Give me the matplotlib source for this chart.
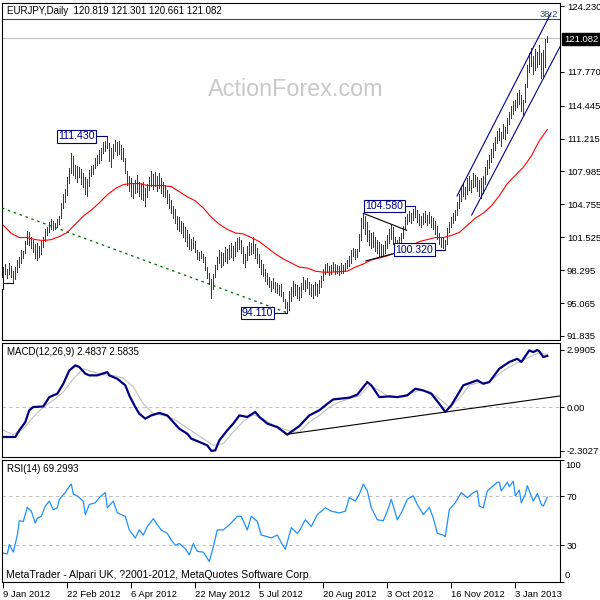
import matplotlib
matplotlib.use('Agg')
import matplotlib.pyplot as plt
from matplotlib.patches import Rectangle

plt.rcParams['font.family'] = ['Liberation Sans', 'DejaVu Sans']

symbol_text = "EURJPY,Daily  120.819 121.301 120.661 121.082"
macd_text = "MACD(12,26,9) 2.4837 2.5835"
rsi_text = "RSI(14) 69.2993"
footer_text = "MetaTrader - Alpari UK, ?2001-2012, MetaQuotes Software Corp."

highs = [
    98.6, 98.9, 98.4, 99.0, 98.7, 98.2, 98.6, 99.3, 99.6, 100.3,
    100.2, 101.2, 102.1, 102.0, 101.6, 101.3, 100.9, 101.0, 100.7, 101.2,
    101.6, 102.3, 102.5, 103.0, 103.3, 103.1, 102.9, 103.3, 103.6, 104.9,
    105.8, 106.3, 107.4, 108.3, 109.8, 109.5, 108.6, 108.5, 108.4, 108.2,
    107.8, 107.4, 107.2, 108.1, 108.5, 108.6, 109.3, 109.6, 110.1, 110.3,
    110.9, 111.0, 111.43, 110.8, 110.3, 110.7, 111.1, 110.9, 111.0, 110.6,
    110.3, 109.3, 108.0, 107.5, 107.3, 106.9, 107.1, 107.6, 107.0, 106.9,
    107.0, 106.4, 106.8, 107.4, 108.0, 107.7, 107.9, 107.5, 107.8, 107.3,
    107.0, 106.7, 106.2, 105.8, 105.2, 104.6, 104.3, 103.6, 103.5, 103.1,
    102.9, 102.5, 102.2, 101.8, 101.4, 101.6, 101.2, 100.3, 100.1, 100.2,
    99.9, 99.6, 98.6, 98.0, 97.4, 97.9, 98.8, 99.6, 100.3, 100.1,
    100.0, 100.6, 100.4, 100.8, 101.0, 100.7, 101.1, 101.5, 101.6, 101.3,
    100.6, 99.9, 100.7, 101.1, 101.0, 101.55, 100.9, 100.5, 99.9, 99.3,
    98.9, 98.4, 98.0, 97.6, 97.2, 97.5, 97.1, 97.0, 96.8, 96.9,
    96.2, 95.5, 95.2, 96.3, 96.6, 97.2, 96.9, 96.8, 96.6, 97.0,
    97.6, 97.3, 97.5, 97.1, 96.9, 96.8, 97.1, 96.9, 97.3, 97.7,
    98.4, 98.9, 99.0, 98.7, 98.8, 99.1, 98.9, 98.8, 98.7, 99.0,
    98.8, 99.0, 99.3, 99.7, 100.3, 100.5, 100.4, 100.4, 101.8, 103.4,
    103.9, 103.6, 103.0, 102.2, 101.9, 102.0, 101.6, 101.3, 101.1, 100.9,
    100.8, 101.2, 101.7, 102.3, 102.7, 102.5, 101.6, 101.3, 101.6, 101.9,
    102.6, 103.5, 103.8, 104.1, 103.9, 104.3, 104.58, 104.2, 103.8, 103.6,
    103.9, 104.1, 103.7, 104.0, 103.6, 103.4, 103.1, 102.6, 101.9, 101.6,
    101.5, 101.3, 102.4, 103.0, 103.5, 103.9, 104.2, 105.0, 105.8, 106.6,
    106.9, 106.5, 107.3, 107.5, 107.1, 107.8, 107.6, 107.4, 107.1, 107.3,
    107.5, 108.4, 109.1, 109.6, 110.2, 110.8, 111.4, 112.0, 112.3, 111.9,
    112.6, 112.4, 113.2, 113.8, 114.4, 114.9, 115.0, 115.7, 116.0, 115.5,
    115.0, 116.6, 118.4, 119.6, 120.1, 119.3, 120.0, 119.7, 120.4, 119.6,
    119.9, 121.0, 121.301,
]

lows = [
    97.7, 97.9, 97.5, 97.9, 97.6, 97.03, 97.4, 98.1, 98.6, 99.0,
    99.5, 100.0, 100.9, 100.8, 100.5, 100.1, 99.5, 99.3, 99.6, 99.9,
    100.6, 101.2, 101.7, 102.0, 102.3, 102.2, 102.3, 102.5, 102.8, 103.4,
    104.4, 105.0, 105.7, 106.9, 107.8, 107.6, 107.3, 107.0, 107.4, 106.8,
    106.5, 105.8, 105.6, 106.6, 107.5, 107.7, 108.3, 108.6, 108.8, 109.1,
    109.8, 110.0, 110.3, 109.0, 108.4, 109.3, 110.0, 109.6, 109.7, 109.2,
    109.0, 107.8, 106.7, 106.1, 105.6, 105.4, 105.9, 106.0, 105.6, 105.3,
    105.2, 104.6, 105.5, 106.2, 106.6, 106.3, 106.6, 106.1, 106.4, 105.9,
    105.6, 105.5, 104.9, 104.4, 103.9, 103.4, 102.9, 102.3, 102.1, 101.9,
    101.6, 101.2, 100.7, 100.4, 100.3, 100.5, 100.1, 99.4, 99.3, 99.5,
    99.1, 98.3, 97.5, 96.9, 95.6, 96.4, 97.6, 98.4, 99.0, 98.6,
    98.8, 99.2, 99.0, 99.4, 99.6, 99.3, 99.7, 100.2, 100.4, 100.0,
    99.0, 98.6, 99.3, 99.8, 99.9, 100.0, 99.5, 99.0, 98.6, 97.9,
    97.7, 97.2, 96.9, 96.6, 96.3, 96.5, 96.2, 96.1, 95.9, 95.8,
    95.3, 94.6, 94.11, 94.4, 95.3, 95.8, 95.9, 95.6, 95.4, 95.7,
    96.4, 96.3, 96.5, 96.0, 95.8, 95.6, 95.9, 95.8, 96.1, 96.6,
    97.3, 97.9, 98.1, 97.8, 97.9, 98.2, 97.9, 98.0, 97.8, 98.0,
    98.0, 98.2, 98.5, 98.7, 99.0, 99.7, 99.4, 99.6, 100.2, 101.3,
    102.4, 101.8, 101.2, 100.8, 100.5, 100.6, 100.2, 100.0, 99.7, 99.6,
    99.7, 100.0, 100.5, 101.0, 101.4, 100.9, 100.3, 100.1, 100.4, 100.6,
    101.5, 102.3, 102.8, 103.1, 102.9, 103.2, 103.5, 103.0, 102.7, 102.5,
    102.8, 103.0, 102.7, 102.9, 102.5, 102.3, 101.8, 101.4, 100.9, 100.6,
    100.5, 100.32, 100.9, 102.0, 102.5, 102.9, 103.2, 103.7, 104.4, 105.1,
    105.6, 105.3, 105.8, 106.2, 106.0, 106.5, 106.6, 106.1, 105.6, 105.4,
    105.9, 106.8, 107.7, 108.3, 108.9, 109.4, 110.1, 110.8, 111.1, 110.5,
    111.3, 111.2, 111.8, 112.6, 113.2, 113.6, 114.0, 114.3, 114.6, 113.9,
    113.5, 114.8, 116.3, 117.8, 118.3, 117.6, 117.9, 118.2, 118.5, 117.2,
    117.4, 118.2, 120.661,
]

ma_bars = list(range(0, 273, 4))
ma_vals = [
    102.7, 101.9, 101.5, 101.5, 101.3, 101.2, 101.3, 101.6, 102.0, 102.8,
    103.6, 104.2, 104.9, 105.7, 106.3, 106.7, 106.8, 106.8, 106.6, 106.6,
    106.6, 106.5, 106.0, 105.5, 105.1, 104.4, 103.5, 102.8, 102.3, 101.95,
    101.85, 101.5, 101.1, 100.5, 99.9, 99.4, 99.0, 98.6, 98.5, 98.2,
    98.1, 98.1, 98.15, 98.2, 98.6, 98.9, 99.3, 99.5, 99.7, 100.0,
    100.3, 100.7, 101.1, 101.3, 101.5, 101.5, 101.7, 102.0, 102.7, 103.4,
    103.9, 104.6, 105.6, 106.8, 107.6, 108.4, 109.5, 111.0, 112.1,
]

macd_bars = [0, 6, 8, 11, 13, 15, 20, 23, 27, 30, 33, 36, 38, 41, 43, 47, 52, 53,
             57, 61, 63, 66, 68, 71, 74, 78, 82, 85, 88, 92, 94, 98, 102, 104, 106,
             108, 112, 115, 118, 122, 126, 128, 132, 137, 142, 145, 148, 153, 158,
             162, 165, 173, 177, 182, 184, 188, 193, 197, 202, 206, 210, 214, 218,
             221, 224, 227, 230, 237, 240, 243, 248, 253, 257, 259, 263, 265, 267,
             268, 270, 272]
macd_vals = [-1.57, -1.57, -1.22, -0.79, -0.17, 0.00, 0.03, 0.52, 0.70, 1.22, 1.92,
             2.18, 2.10, 1.75, 1.66, 1.66, 1.83, 1.66, 1.48, 1.14, 0.61, 0.00, -0.35,
             -0.61, -0.44, -0.31, -0.44, -0.79, -1.14, -1.40, -1.66, -1.83, -2.01,
             -2.30, -2.27, -1.75, -1.22, -0.87, -0.44, -0.52, -0.26, -0.52, -0.87,
             -1.05, -1.45, -1.22, -1.00, -0.44, -0.17, 0.17, 0.40, 0.49, 0.65, 1.31,
             1.14, 0.52, 0.56, 0.52, 0.61, 0.96, 0.87, 0.70, 0.17, -0.26, 0.09, 0.61,
             1.14, 1.40, 1.22, 1.31, 2.01, 2.36, 2.53, 2.36, 2.97, 2.88, 2.99, 2.92,
             2.62, 2.68]

signal_bars = [0, 5, 10, 15, 20, 25, 30, 35, 40, 45, 50, 55, 60, 65, 70, 75, 80, 85,
               90, 95, 100, 105, 110, 115, 120, 125, 130, 135, 140, 145, 148, 153,
               158, 163, 168, 173, 178, 183, 188, 193, 198, 203, 208, 213, 218, 223,
               228, 233, 238, 243, 248, 253, 258, 263, 268, 272]
signal_vals = [-1.22, -1.45, -1.14, -0.52, 0.0, 0.35, 0.79, 1.48, 2.01, 1.83, 1.69,
               1.66, 1.52, 1.05, 0.17, -0.35, -0.44, -0.61, -0.96, -1.31, -1.66,
               -2.01, -1.92, -1.31, -0.75, -0.40, -0.61, -0.96, -1.14, -1.31, -1.31,
               -0.79, -0.44, 0.0, 0.26, 0.44, 0.58, 1.14, 0.87, 0.52, 0.52, 0.70,
               0.87, 0.82, 0.44, 0.0, 0.44, 1.14, 1.28, 1.31, 1.75, 2.10, 2.36, 2.62,
               2.85, 2.75]

rsi_bars = [0, 2, 3, 5, 7, 8, 10, 12, 14, 16, 17, 19, 21, 23, 25, 27, 28, 31, 32, 34,
            35, 37, 40, 41, 43, 46, 48, 51, 52, 55, 57, 61, 63, 66, 68, 70, 72, 75,
            77, 79, 82, 84, 86, 88, 91, 93, 95, 97, 100, 103, 105, 107, 110, 113,
            117, 119, 122, 124, 127, 129, 132, 134, 137, 139, 141, 144, 147, 148,
            151, 154, 157, 161, 164, 168, 171, 173, 176, 178, 180, 182, 184, 187,
            190, 192, 194, 197, 199, 202, 205, 207, 210, 213, 215, 217, 220, 221,
            223, 226, 229, 232, 235, 237, 238, 240, 242, 247, 248, 249, 252, 253,
            255, 256, 258, 259, 261, 262, 265, 267, 269, 270, 272]
rsi_vals = [23.6, 23.0, 30.6, 24.4, 38.3, 50.0, 49.4, 61.0, 57.8, 48.0, 52.0, 53.6,
            62.0, 66.0, 59.0, 60.6, 67.5, 73.0, 75.8, 80.0, 71.7, 70.3, 66.0, 55.0,
            63.3, 64.7, 69.0, 73.0, 60.6, 66.0, 56.4, 53.6, 42.5, 36.0, 42.5, 38.3,
            45.3, 51.7, 46.7, 42.5, 39.7, 34.2, 30.0, 31.4, 27.2, 22.2, 31.4, 25.0,
            24.4, 16.7, 28.6, 42.5, 42.5, 46.7, 53.6, 53.6, 42.5, 53.6, 49.4, 38.3,
            37.0, 36.0, 38.3, 32.2, 26.7, 44.4, 39.7, 41.7, 50.8, 45.3, 55.0, 60.6,
            57.8, 56.4, 57.8, 68.9, 66.0, 71.7, 80.0, 74.4, 60.6, 50.8, 50.0, 57.8,
            67.5, 50.8, 56.4, 67.5, 70.3, 63.3, 55.0, 61.0, 52.2, 39.7, 38.3, 37.0,
            59.2, 64.7, 73.0, 68.9, 73.0, 74.4, 61.9, 60.6, 74.4, 81.4, 81.4, 74.4,
            81.4, 77.8, 82.2, 70.3, 75.0, 64.7, 71.7, 78.6, 66.0, 72.2, 63.3, 61.9,
            69.3]

date_bars = [0, 32, 64, 96, 128, 160, 192, 224, 256]
date_labels = ["9 Jan 2012", "22 Feb 2012", "6 Apr 2012", "22 May 2012", "5 Jul 2012",
               "20 Aug 2012", "3 Oct 2012", "16 Nov 2012", "3 Jan 2013"]

price_ticks = [124.230, 117.770, 114.445, 111.215, 107.985, 104.755, 101.525,
               98.295, 95.065, 91.835]
last_price = 121.082
fib_level = 122.95

# swing labels: (text, price, bar of the swing, bar of the box centre)
swing_texts = ["111.430", "94.110", "104.580", "100.320"]
swing_prices = [111.43, 94.11, 104.58, 100.32]
swing_bars = [52, 142, 206, 221]
swing_box_bars = [36.6, 127.1, 190.6, 205.6]

# the January low label sits off the left edge, only its box edge shows
jan_low_price = 97.03
jan_low_bar = 5

green_bars = [-0.65, 142]
green_prices = [104.40, 94.11]
tri_up_bars = [180, 201.7]
tri_up_prices = [103.88, 102.21]
tri_lo_bars = [181.2, 202]
tri_lo_prices = [99.20, 100.28]
chan_up_bars = [226.85, 273.85]
chan_up_prices = [105.58, 123.54]
chan_lo_bars = [234.2, 278.35]
chan_lo_prices = [103.71, 120.23]
macd_trend_bars = [141.7, 278.35]
macd_trend_vals = [-1.43, 0.58]

W = H = 600.0


def box(l, t, r, b):
    return [l / W, 1 - b / H, (r - l) / W, (b - t) / H]


fig = plt.figure(figsize=(6, 6), dpi=100)
fig.patch.set_facecolor('white')

ax = fig.add_axes(box(2, 2.5, 560, 339.5))
axm = fig.add_axes(box(2, 343, 560, 457))
axr = fig.add_axes(box(2, 459.5, 560, 582))

for a in (ax, axm, axr):
    a.set_xlim(-0.65, 278.35)
    for s in a.spines.values():
        s.set_linewidth(0.8)
        s.set_color('black')
    a.yaxis.tick_right()
    a.tick_params(axis='y', direction='out', length=3, width=0.7, labelsize=6.8,
                  pad=2, colors='black')
    a.tick_params(axis='x', bottom=False, labelbottom=False)

# price panel
ax.set_ylim(91.49, 124.574)
ax.set_yticks(price_ticks)
ax.set_yticklabels(["%.3f" % p for p in price_ticks])

bar_x = list(range(len(highs)))
ax.vlines(bar_x, lows, highs, color='#1f4262', lw=0.7, zorder=3, antialiased=False)
ax.plot(ma_bars, ma_vals, color='#ff0000', lw=0.8, zorder=4)

ax.axhline(fib_level, color='#3c4a4a', lw=0.8, zorder=2)
ax.axhline(last_price, color='#c0c0c0', lw=0.8, zorder=2)

ax.plot(green_bars, green_prices, color='#006400', lw=0.9, ls=(0, (2, 3)), zorder=4)
ax.plot(tri_up_bars, tri_up_prices, color='black', lw=0.8, zorder=5)
ax.plot(tri_lo_bars, tri_lo_prices, color='black', lw=0.8, zorder=5)
ax.plot(chan_up_bars, chan_up_prices, color='#00008b', lw=0.8, zorder=5)
ax.plot(chan_lo_bars, chan_lo_prices, color='#00008b', lw=0.8, zorder=5)

for txt, p, b, bb in zip(swing_texts, swing_prices, swing_bars, swing_box_bars):
    ax.plot([bb, b], [p, p], color='#000080', lw=0.8, zorder=6)
    ax.text(bb, p, txt, ha='center', va='center', fontsize=7.6, color='#000080',
            zorder=7,
            bbox=dict(boxstyle='square,pad=0.12', fc='white', ec='#000080', lw=0.8))

ax.plot([-0.15, jan_low_bar], [jan_low_price, jan_low_price], color='#000080',
        lw=0.8, zorder=6)
ax.add_patch(Rectangle((-25, jan_low_price - 0.6), 24.85, 1.2, fc='white',
                       ec='#000080', lw=0.8, zorder=7))

ax.text(208 / W, 1 - 89 / H, "ActionForex.com", transform=fig.transFigure,
        fontsize=16.8, color='#c8c8c8', va='center', ha='left', zorder=0)
fig.text(7 / W, 1 - 10.5 / H, symbol_text, fontsize=7, va='center', ha='left')
fig.text(558 / W, 1 - 14.5 / H, "38.2", fontsize=6.8, color='#2f4f4f',
         va='center', ha='right')
fig.text(564 / W, 1 - 39 / H, "%.3f" % last_price, fontsize=6.8, color='white',
         va='center', ha='left',
         bbox=dict(boxstyle='square,pad=0.18', fc='black', ec='black'))

# MACD panel
axm.set_ylim(-2.62, 3.357)
axm.set_yticks([2.9905, 0.0, -2.3027])
axm.set_yticklabels(["2.9905", "0.00", "-2.3027"])
axm.axhline(0, color='#c0c0c0', lw=0.8, ls=(0, (3, 3)))
axm.plot(signal_bars, signal_vals, color='#c0c0c0', lw=0.8)
axm.plot(macd_bars, macd_vals, color='#000080', lw=1.6)
axm.plot(macd_trend_bars, macd_trend_vals, color='black', lw=0.8)
fig.text(7 / W, 1 - 352 / H, macd_text, fontsize=7, va='center', ha='left')

# RSI panel
axr.set_ylim(0, 100)
axr.set_yticks([100, 70, 30, 0])
axr.set_yticklabels(["", "70", "30", ""])
axr.axhline(70, color='#c0c0c0', lw=0.8, ls=(0, (3, 3)))
axr.axhline(30, color='#c0c0c0', lw=0.8, ls=(0, (3, 3)))
axr.plot(rsi_bars, rsi_vals, color='#1e90ff', lw=0.9)
fig.text(565 / W, 1 - 466 / H, "100", fontsize=6.8, va='center', ha='left')
fig.text(565 / W, 1 - 576 / H, "0", fontsize=6.8, va='center', ha='left')
fig.text(7 / W, 1 - 469 / H, rsi_text, fontsize=7, va='center', ha='left')
fig.text(6 / W, 1 - 574.5 / H, footer_text, fontsize=7.6, va='center', ha='left')

axr.tick_params(axis='x', bottom=True, labelbottom=True, direction='out', length=4,
                width=0.7, labelsize=6.8, pad=1.5)
axr.set_xticks(date_bars)
axr.set_xticklabels(date_labels, ha='left')

fig.savefig('out.png', dpi=100, facecolor='white')
